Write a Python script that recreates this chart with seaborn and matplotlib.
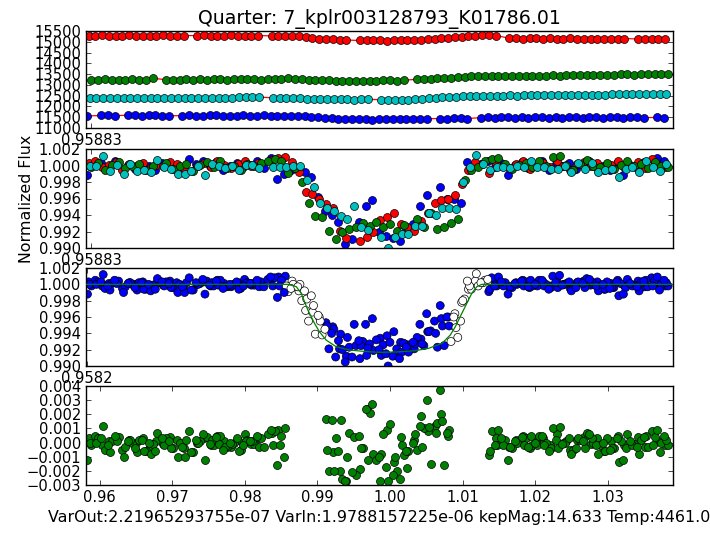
import numpy as np
import pandas as pd
import matplotlib
matplotlib.use("Agg")
import matplotlib.pyplot as plt
import seaborn as sns

# ---------------------------------------------------------------- text
title_text = "Quarter: 7_kplr003128793_K01786.01"
stats_text = ("VarOut:2.21965293755e-07 VarIn:1.9788157225e-06 "
              "kepMag:14.633 Temp:4461.0")
flux_label = "Normalized Flux"

# ---------------------------------------------------------------- sampling
# each transit window is sampled on a regular cadence in phase units
cadence_step = 0.000935
series_order = ["red", "green", "cyan", "blue"]
series_colors = {"red": "#ff0000", "green": "#008000",
                 "cyan": "#00bfbf", "blue": "#0000ff"}
series_start = {"red": 0.95845, "green": 0.95885,
                "cyan": 0.95860, "blue": 0.95830}

# ---------------------------------------------------------------- raw flux (e-/s)
raw_red = [15290, 15280, 15300, 15285, 15275, 15290, 15295, 15280, 15270, 15285,
           15290, 15300, 15280, 15275, 15290, None, 15285, 15295, 15280, 15270,
           15290, 15300, 15285, 15275, 15280, 15290, None, 15270, 15260, 15265,
           15255, 15250, 15210, 15180, 15150, 15130, 15120, 15100, 15080, None,
           15060, 15075, 15060, 15070, 15055, 15065, 15080, 15070, 15090, 15100,
           15120, 15140, 15160, 15190, 15210, 15240, 15260, 15280, 15300, 15310,
           15290, None, 15170, 15160, 15150, 15165, 15155, 15145, 15160, 15150,
           15140, 15155, 15150, 15145, 15140, 15150, 15135, 15145, 15140, 15150,
           None, 15130, 15125, 15135, 15130, 15120]
raw_green = [13250, 13245, 13255, 13250, 13240, 13250, 13255, 13245, 13250, 13310,
             None, 13240, 13250, 13245, 13255, 13250, 13260, 13250, 13255, 13260,
             13250, 13255, 13265, 13260, 13255, 13250, 13260, 13265, 13255, 13320,
             13260, 13255, 13250, 13240, 13230, 13215, 13200, 13190, 13195, 13185,
             13190, 13200, 13195, 13205, 13210, 13200, 13215, None, 13260, 13275,
             13290, 13305, 13320, 13340, 13355, 13370, 13390, 13400, 13410, 13405,
             13415, 13410, 13420, 13415, 13425, 13420, 13430, 13425, 13440, 13435,
             13445, 13460, 13455, 13470, 13465, 13475, 13480, 13470, 13485, 13490,
             13480, 13495, 13490, 13500, 13495, 13505]
raw_cyan = [12380, 12375, 12385, 12380, 12370, 12380, 12385, 12375, 12380, 12390,
            12380, 12375, 12385, 12380, 12390, 12385, 12380, 12375, 12385, 12395,
            12400, 12410, 12420, 12430, 12425, 12435, None, 12400, 12395, 12390,
            12380, 12370, 12360, 12350, 12340, 12335, 12330, 12325, 12330, 12320,
            12325, 12330, None, 12310, 12315, 12305, 12310, 12320, 12340, 12360,
            12380, 12400, 12420, 12440, 12450, 12465, 12470, 12490, 12495, 12500,
            12505, 12500, 12510, 12505, 12515, 12520, 12515, 12525, 12520, 12530,
            12535, 12530, 12540, 12535, 12545, 12550, 12545, 12555, 12560, 12555,
            12565, 12570, 12565, 12575, 12570, 12580]
raw_blue = [11560, None, 11580, 11585, 11575, None, 11590, 11580, 11575, 11585,
            11580, 11570, 11565, None, 11575, 11580, 11570, 11575, 11585, 11580,
            11570, 11565, 11575, 11580, 11570, 11575, 11580, 11565, 11570, 11575,
            11560, 11555, 11540, 11520, 11500, 11470, 11450, 11430, 11420, 11410,
            11400, 11405, 11390, 11400, 11410, 11395, 11405, 11410, 11400, 11420,
            11430, None, 11440, 11430, 11445, 11450, 11440, None, 11480, 11490,
            11485, 11495, 11490, 11480, 11495, 11485, 11490, 11500, 11485, 11490,
            11480, 11495, 11490, 11485, 11495, 11490, 11480, 11495, 11490, 11485,
            11490, 11495, 11480, None, 11490, 11485]

# ---------------------------------------------------------------- normalized flux, (flux - 1) in 1e-4
norm_red = [3, 5, -2, 1, 4, -5, 2, 0, 3, -3, 1, -1, 4, 2, -4, None, 0, 3, -2, 5,
            1, -3, 2, 6, -1, 3, None, 7, 9, 10, 4, -8, -32, -34, -40, -47, -52,
            -79, -88, None, -91, -87, -81, -66, -63, -58, -71, -74, -79, -67, -58,
            -45, -42, -40, -36, -22, -6, 4, 2, -9, 3, None, -3, 2, 5, -4, 1, 3,
            -2, 6, 0, -5, 2, 4, -1, 3, -6, 1, 5, -2, None, 4, -3, 8, 1, -2]
norm_green = [-2, 3, -5, 1, 4, -3, 0, 2, -6, -1, None, 3, -4, 0, 2, -7, 1, 4, -2,
              5, -3, 0, -5, 2, -1, 3, 6, 8, 5, -9, -3, -20, -45, -61, -62, -79,
              -89, -80, -77, -75, -70, -73, -68, -74, -71, -79, -72, None, -65,
              -75, -57, -77, -75, -70, -65, -18, -6, -2, 5, 8, 9, 2, -4, 1, 3, -2,
              5, 0, 10, 11, 1, -5, 2, 7, 0, -2, 3, -4, 1, 6, -1, 2, -3, 4, 0, -2]
norm_cyan = [0, 0, 12, -7, 1, -10, 2, -7, -6, -8, 7, -2, -4, -10, -10, -7, 0, -12,
             2, -1, -3, -1, -6, 1, 1, -3, None, -2, -2, -2, 0, 0, -18, -26, -45,
             -51, -55, -61, -65, -49, -75, -78, None, -87, -100, -87, -83, -83,
             -73, -73, -58, -60, -51, -51, -53, -20, -2, 13, 2, -6, -2, -2, -3, 0,
             -2, 5, -2, -2, -4, -4, 0, -8, 3, -4, 3, -8, -6, -4, -14, -4, -2, -8,
             5, -2, -7, 2]
norm_blue = [-12, None, 3, -2, 5, None, 1, -4, 2, 0, -6, 3, 1, None, -3, 8, 2, 6,
             -1, 4, -5, 0, 3, -2, 1, 5, -3, 9, -16, -10, -5, -3, -8, -14, -38, -55,
             -60, -69, -95, -89, -69, -49, -42, -80, -85, -88, -91, -77, -71, -49,
             -36, None, -26, -40, -40, -45, 4, None, 2, 6, -2, 3, -12, 1, 4, -3, 0,
             5, -6, 2, -1, 3, -4, 1, 6, -2, 0, -5, 3, -12, 1, -3, 4, None, 9, 5]

# ---------------------------------------------------------------- fit residuals in 1e-4 (ingress/egress left out)
resid_red = [3, 5, -2, 1, 4, -5, 2, 0, 3, -3, 1, -1, 4, 2, -4, None, 0, 3, -2, 5,
             1, -3, 2, 6, -1, 3, None, 7, 9, 10, None, None, None, None, None,
             17, -7, -20, -27, None, -19, 24, -8, -27, 9, -14, 4, -18, 2, 19, 8,
             12, 20, 5, None, None, None, None, None, -9, 3, None, -3, 2, 5, -4,
             1, 3, -2, 6, 0, -5, 2, 4, -1, 3, -6, 1, 5, -2, None, 4, -3, 8, 1, -2]
resid_green = [-2, 3, -5, 1, 4, -3, 0, 2, -6, -1, None, 3, -4, 0, 2, -7, 1, 4, -2,
               5, -3, 0, -5, 2, -1, 3, 6, 8, 5, None, None, None, None, None, None,
               -20, 3, -26, 7, -23, -4, 21, -12, 6, 13, -20, -9, None, -5, 10, -15,
               14, -16, None, None, None, None, None, None, 8, 9, 2, -4, 1, 3, -2,
               5, 0, 10, 11, 1, -5, 2, 7, 0, -2, 3, -4, 1, 6, -1, 2, -3, 4, 0, -2]
resid_cyan = [0, 0, 12, -7, 1, -10, 2, -7, -6, -8, 7, -2, -4, -10, -10, -7, 0, -12,
              2, -1, -3, -1, -6, 1, 1, -3, None, -2, -2, None, None, None, None,
              None, None, -5, -20, 16, -10, 4, -4, -12, None, -8, -27, -10, -2, -6,
              6, -3, 11, 7, 15, 9, None, None, None, None, None, -6, -2, -2, -3, 0,
              -2, 5, -2, -2, -4, -4, 0, -8, 3, -4, 3, -8, -6, -4, -14, -4, -2, -8,
              5, -2, -7, 2]
resid_blue = [-12, None, 3, -2, 5, None, 1, -4, 2, 0, -6, 3, 1, None, -3, 8, 2, 6,
              -1, 4, -5, 0, 3, -2, 1, 5, -3, 9, -16, -10, None, None, None, None,
              None, None, 16, -6, -27, -21, 5, 24, 27, -10, -17, -23, -26, -6, 0,
              12, 30, None, 37, 7, None, None, None, None, None, None, -2, 3, -12,
              1, 4, -3, 0, 5, -6, 2, -1, 3, -4, 1, 6, -2, 0, -5, 3, -12, 1, -3, 4,
              None, 9, 5]

# ---------------------------------------------------------------- transit model
model_phase = [0.9581, 0.9859, 0.98708, 0.98776, 0.98867, 0.98959, 0.99027,
               0.99119, 0.99256, 0.99438, 0.99650, 0.99849, 1.00100, 1.00352,
               1.00534, 1.00717, 1.00831, 1.00900, 1.00990, 1.01059, 1.01127,
               1.01196, 1.01265, 1.0390]
model_flux = [1.0, 1.0, 0.99971, 0.99890, 0.99686, 0.99523, 0.99420, 0.99318,
              0.99237, 0.99196, 0.99178, 0.99168, 0.99172, 0.99188, 0.99217,
              0.99278, 0.99380, 0.99481, 0.99645, 0.99768, 0.99890, 0.99971,
              1.0, 1.0]

# phases of ingress / egress (drawn open, not used in the residuals)
ingress_window = (0.9857, 0.9911)
egress_window = (1.0083, 1.0135)

# ---------------------------------------------------------------- axis ticks
phase_limits = (0.9581, 1.0390)
phase_ticks = [0.96, 0.97, 0.98, 0.99, 1.00, 1.01, 1.02, 1.03]
phase_tick_labels = ["0.96", "0.97", "0.98", "0.99", "1.00", "1.01", "1.02", "1.03"]
upper_phase_ticks = [[0.95883], [0.95883], [0.9582]]
upper_phase_labels = [["0.95883"], ["0.95883"], ["0.9582"]]
raw_ticks = [11000, 11500, 12000, 12500, 13000, 13500, 14000, 14500, 15000, 15500]
raw_tick_labels = [str(v) for v in raw_ticks]
norm_ticks = [0.990, 0.992, 0.994, 0.996, 0.998, 1.000, 1.002]
norm_tick_labels = ["0.990", "0.992", "0.994", "0.996", "0.998", "1.000", "1.002"]
resid_ticks = [-0.003, -0.002, -0.001, 0.0, 0.001, 0.002, 0.003, 0.004]
resid_tick_labels = ["\u22120.003", "\u22120.002", "\u22120.001", "0.000",
                     "0.001", "0.002", "0.003", "0.004"]

raw_lists = {"red": raw_red, "green": raw_green, "cyan": raw_cyan, "blue": raw_blue}
norm_lists = {"red": norm_red, "green": norm_green, "cyan": norm_cyan, "blue": norm_blue}
resid_lists = {"red": resid_red, "green": resid_green, "cyan": resid_cyan,
               "blue": resid_blue}

frames = []
for name in series_order:
    raw = np.array(raw_lists[name], dtype=float)
    norm = np.array(norm_lists[name], dtype=float)
    resid = np.array(resid_lists[name], dtype=float)
    slot = np.arange(len(raw))
    frames.append(pd.DataFrame({
        "series": name,
        "phase": series_start[name] + slot * cadence_step,
        "raw": raw,
        "flux": 1.0 + norm * 1e-4,
        "resid": resid * 1e-4,
    }))
lc = pd.concat(frames, ignore_index=True)
ph = lc["phase"]
lc["edge"] = (((ph >= ingress_window[0]) & (ph <= ingress_window[1])) |
              ((ph >= egress_window[0]) & (ph <= egress_window[1])))

# ---------------------------------------------------------------- style
sns.set_theme(style="ticks")
plt.rcParams["font.family"] = ["DejaVu Sans"]
plt.rcParams.update({
    "axes.edgecolor": "black",
    "axes.linewidth": 1.0,
    "axes.labelcolor": "black",
    "text.color": "black",
    "xtick.color": "black",
    "ytick.color": "black",
    "axes.facecolor": "white",
    "figure.facecolor": "white",
})

TICK_FS = 10.65
LABEL_FS = 11.4
DOT = 33
EDGE_LW = 0.5

fig = plt.figure(figsize=(7.1, 5.33), dpi=100)
px_w, px_h = 710.0, 533.0
left, width = 86 / px_w, 587 / px_w
panel_rows = [(31, 128), (149, 248), (268, 366), (386, 485)]
axes = [fig.add_axes([left, 1 - bot / px_h, width, (bot - top) / px_h])
        for top, bot in panel_rows]
ax_raw, ax_norm, ax_fold, ax_res = axes

# panel 1: raw flux with its trend line
for name in series_order:
    d = lc[(lc["series"] == name)].dropna(subset=["raw"])
    sns.lineplot(data=d, x="phase", y="raw", ax=ax_raw, color="red", lw=0.9,
                 estimator=None, sort=True, legend=False, zorder=1)
    sns.scatterplot(data=d, x="phase", y="raw", ax=ax_raw,
                    color=series_colors[name], s=DOT, edgecolor="black",
                    linewidth=EDGE_LW, legend=False, zorder=2)

# panel 2: normalized flux, one colour per transit
for name in ["blue", "red", "green", "cyan"]:
    d = lc[(lc["series"] == name)].dropna(subset=["flux"])
    sns.scatterplot(data=d, x="phase", y="flux", ax=ax_norm,
                    color=series_colors[name], s=DOT, edgecolor="black",
                    linewidth=EDGE_LW, legend=False, zorder=2)

# panel 3: folded light curve with model
d = lc.dropna(subset=["flux"]).copy()
d["state"] = np.where(d["edge"], "edge", "fit")
sns.scatterplot(data=d, x="phase", y="flux", hue="state",
                palette={"fit": "#0000ff", "edge": "#ffffff"}, ax=ax_fold,
                s=DOT, edgecolor="black", linewidth=EDGE_LW, legend=False,
                zorder=2)
sns.lineplot(x=model_phase, y=model_flux, ax=ax_fold, color="#008000", lw=0.9,
             estimator=None, sort=False, legend=False, zorder=3)

# panel 4: residuals
d = lc.dropna(subset=["resid"])
sns.scatterplot(data=d, x="phase", y="resid", ax=ax_res, color="#008000",
                s=DOT, edgecolor="black", linewidth=EDGE_LW, legend=False,
                zorder=2)

# ---------------------------------------------------------------- axes cosmetics
for ax in axes:
    ax.set_xlim(*phase_limits)
    ax.set_xlabel("")
    ax.set_ylabel("")
    ax.tick_params(which="both", direction="in", top=True, right=True,
                   length=3.6, width=0.5, labelsize=TICK_FS, pad=3.5)
    for sp in ax.spines.values():
        sp.set_visible(True)
        sp.set_linewidth(1.0)

for ax, ticks, labels in zip(axes[:3], upper_phase_ticks, upper_phase_labels):
    ax.set_xticks(ticks, labels)

ax_raw.set_ylim(11000, 15500)
ax_raw.set_yticks(raw_ticks, raw_tick_labels)
ax_norm.set_ylim(0.990, 1.002)
ax_norm.set_yticks(norm_ticks, norm_tick_labels)
ax_fold.set_ylim(0.990, 1.002)
ax_fold.set_yticks(norm_ticks, norm_tick_labels)
ax_res.set_ylim(-0.003, 0.004)
ax_res.set_yticks(resid_ticks, resid_tick_labels)
ax_res.set_xticks(phase_ticks, phase_tick_labels)

ax_raw.set_title(title_text, fontsize=13.6, pad=5.3)
ax_norm.set_ylabel(flux_label, fontsize=LABEL_FS, labelpad=3.5)
ax_res.set_xlabel(stats_text, fontsize=LABEL_FS, labelpad=3.5)

fig.savefig("out.png", dpi=100)
